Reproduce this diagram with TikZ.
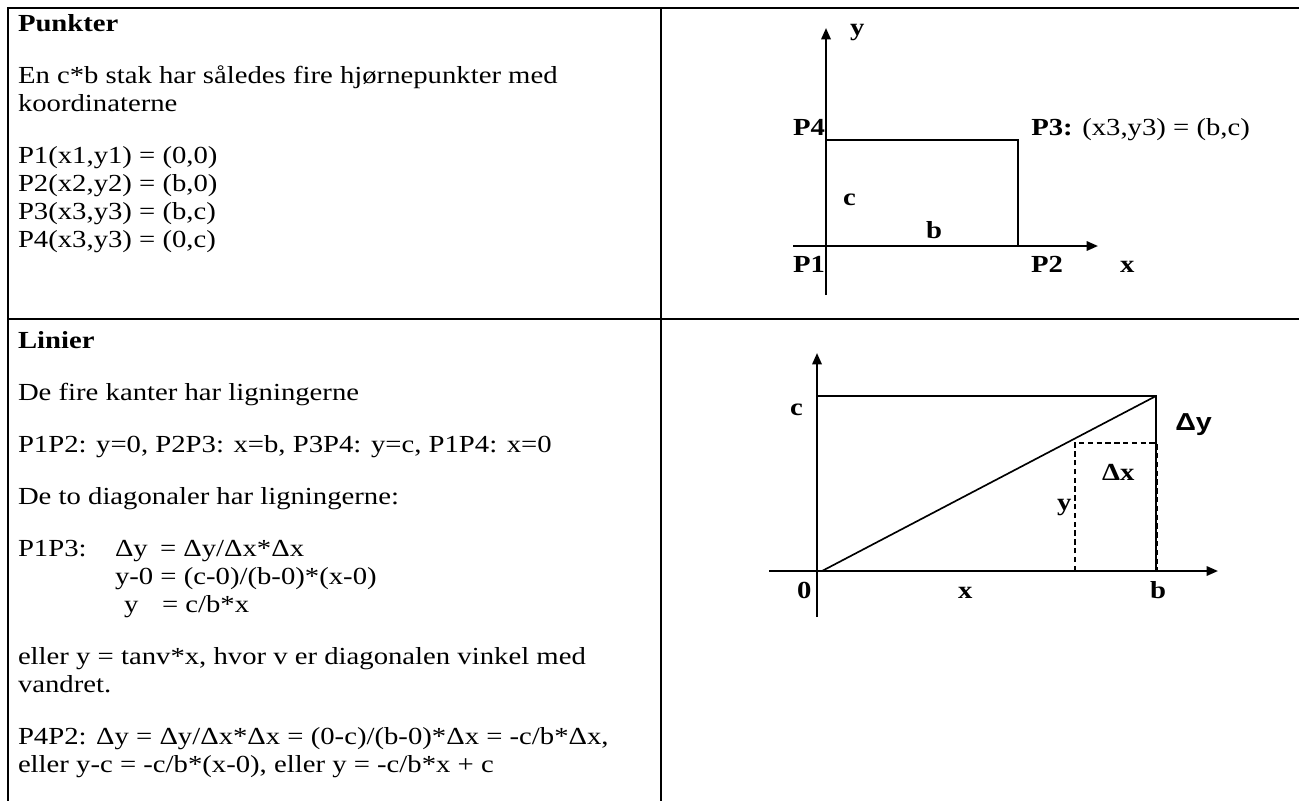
\documentclass[tikz,border=0pt]{standalone}
\usepackage{fontspec}
\setmainfont{Liberation Serif}[FakeStretch=1.17]
\newfontfamily\sansb{Liberation Sans}[FakeStretch=1.17]
\usetikzlibrary{arrows.meta}
\newcommand{\bodysize}{\fontsize{18.4pt}{21.2pt}\selectfont}
\begin{document}
\begin{tikzpicture}[x=0.75pt,y=-0.75pt,
  txt/.style={anchor=base west, inner sep=0pt, outer sep=0pt, font=\bodysize},
  hd/.style={txt, font=\bodysize\bfseries},
  lbl/.style={anchor=base west, inner sep=0pt, outer sep=0pt, font=\bodysize\bfseries},
  rule/.style={line width=1.1pt},
  axisln/.style={line width=1.6pt, -{Triangle[length=8.5pt,width=7pt]}},
  edgeln/.style={line width=1.25pt},
  dashln/.style={line width=1.1pt, dash pattern=on 4pt off 2.6pt}
]
\useasboundingbox (0,0) rectangle (1299,801);
\fill[white] (0,0) rectangle (1299,801);

% table rules
\coordinate (tl) at (8,8);
\coordinate (tr) at (1299,8);
\coordinate (bl) at (8,801);
\coordinate (mt) at (661,8);
\coordinate (mb) at (661,801);
\coordinate (dl) at (8,319);
\coordinate (dr) at (1299,319);
\draw[rule] (tr) -- (tl) -- (bl);
\draw[rule] (mt) -- (mb);
\draw[rule] (dl) -- (dr);

% ---------- top-left text ----------
\node[hd]  (h1) at (18,31)    {Punkter};
\node[txt] (t1) at (18,83)    {En c*b stak har således fire hjørnepunkter med};
\node[txt] (t2) at (18,111)   {koordinaterne};
\node[txt] (t3) at (18,163)   {P1(x1,y1) = (0,0)};
\node[txt] (t4) at (18,191)   {P2(x2,y2) = (b,0)};
\node[txt] (t5) at (18,219)   {P3(x3,y3) = (b,c)};
\node[txt] (t6) at (18,247)   {P4(x3,y3) = (0,c)};

% ---------- bottom-left text ----------
\node[hd]  (h2) at (18,348)    {Linier};
\node[txt] (b1) at (18,400)    {De fire kanter har ligningerne};
\node[txt] (b2) at (18,452)    {P1P2: y=0, P2P3: x=b, P3P4: y=c, P1P4: x=0};
\node[txt] (b3) at (18,504)    {De to diagonaler har ligningerne:};
\node[txt] (b4a) at (18,556)   {P1P3:};
\node[txt] (b4b) at (115,556)  {Δy};
\node[txt] (b4c) at (160,556)  {= Δy/Δx*Δx};
\node[txt] (b5) at (115,584)   {y-0 = (c-0)/(b-0)*(x-0)};
\node[txt] (b6a) at (124,612)  {y};
\node[txt] (b6b) at (162,612)  {= c/b*x};
\node[txt] (b7) at (18,664)    {eller y = tanv*x, hvor v er diagonalen vinkel med};
\node[txt] (b8) at (18,692)    {vandret.};
\node[txt] (b9) at (18,744)    {P4P2: Δy = Δy/Δx*Δx = (0-c)/(b-0)*Δx = -c/b*Δx,};
\node[txt] (b10) at (18,772)   {eller y-c = -c/b*(x-0), eller y = -c/b*x + c};

% ---------- top-right diagram ----------
\coordinate (yb1) at (826,295);
\coordinate (yt1) at (826,28);
\coordinate (xl1) at (793,246);
\coordinate (xr1) at (1098,246);
\coordinate (p4) at (826,140);
\coordinate (p3) at (1018,140);
\coordinate (p2) at (1018,246);
\draw[edgeln] (p4) -- (p3) -- (p2);
\draw[axisln] (yb1) -- (yt1);
\draw[axisln] (xl1) -- (xr1);
\node[lbl] (ly1) at (850,35)   {y};
\node[lbl] (lp4) at (793,135)  {P4};
\node[anchor=base west, inner sep=0pt, font=\bodysize] (lp3) at (1031,135) {\textbf{P3:} (x3,y3) = (b,c)};
\node[lbl] (lc1) at (843,205)  {c};
\node[lbl] (lb1) at (926,238)  {b};
\node[lbl] (lp1) at (793,272)  {P1};
\node[lbl] (lp2) at (1031,272) {P2};
\node[lbl] (lx1) at (1120,272) {x};

% ---------- bottom-right diagram ----------
\coordinate (yb2) at (817,617);
\coordinate (yt2) at (817,353);
\coordinate (xl2) at (769,571);
\coordinate (xr2) at (1218,571);
\coordinate (c2) at (817,396);
\coordinate (tr2) at (1156,396);
\coordinate (br2) at (1156,571);
\coordinate (d0) at (822,571);
\coordinate (da) at (1075,443);
\coordinate (db) at (1157,443);
\coordinate (dc) at (1075,571);
\coordinate (dd) at (1157,571);
\draw[edgeln] (c2) -- (tr2) -- (br2);
\draw[edgeln] (d0) -- (tr2);
\draw[dashln] (dc) -- (da) -- (db) -- (dd);
\draw[axisln] (yb2) -- (yt2);
\draw[axisln] (xl2) -- (xr2);
\node[lbl] (lc2) at (790,415)  {c};
\node[anchor=base west, inner sep=0pt, font=\sansb\bodysize\bfseries] (ldy) at (1175,430) {Δy};
\node[lbl] (ldx) at (1102,480) {Δx};
\node[lbl] (ly2) at (1057,510) {y};
\node[lbl] (l02) at (797,598)  {0};
\node[lbl] (lx2) at (958,598)  {x};
\node[lbl] (lb2) at (1150,598) {b};
\end{tikzpicture}
\end{document}
